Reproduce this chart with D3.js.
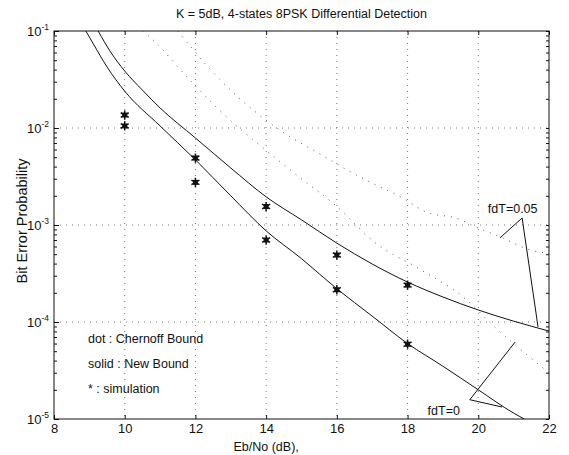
<!DOCTYPE html>
<html><head><meta charset="utf-8">
<script src="https://cdn.jsdelivr.net/npm/d3@7/dist/d3.min.js"></script>
<style>body{margin:0;background:#fff}svg{display:block}text{font-family:"Liberation Sans",Arial,sans-serif;fill:#111}</style>
</head><body><svg id="c" width="569" height="455"></svg>
<script>
const title = "K = 5dB, 4-states 8PSK Differential Detection";
const xLabel = "Eb/No (dB),";
const yLabel = "Bit Error Probability";
const xTicks = [8, 10, 12, 14, 16, 18, 20, 22];
const yTickExps = [-1, -2, -3, -4, -5];

// Solid: New Bound, fdT=0
const newBound0X = [8.9, 9.1, 9.5, 10, 11, 12, 13, 14, 15, 16, 17, 18, 19, 20, 21, 21.3];
const newBound0Y = [0.1, 0.075, 0.0426, 0.024, 0.0105, 0.0047, 0.0020, 8.7e-4, 4.5e-4, 2.2e-4, 1.15e-4, 6.0e-5, 3.5e-5, 2.0e-5, 1.15e-5, 1.0e-5];
// Solid: New Bound, fdT=0.05
const newBound05X = [9.25, 9.6, 10, 10.5, 11, 12, 13, 14, 15, 16, 17, 18, 19, 20, 21, 22];
const newBound05Y = [0.1, 0.0608, 0.0387, 0.0246, 0.0161, 0.00789, 0.00387, 0.00195, 0.00113, 6.5e-4, 3.96e-4, 2.58e-4, 1.81e-4, 1.33e-4, 1.02e-4, 8.07e-5];
// Dotted: Chernoff Bound, fdT=0
const chernoff0X = [10.5, 10.9, 11.4, 11.85, 13.1, 13.9, 14.9, 16, 17.1, 18.35, 19.5, 20.6, 22];
const chernoff0Y = [0.1, 0.075, 0.047, 0.031, 0.011, 6.3e-3, 3.2e-3, 1.55e-3, 6.5e-4, 3.5e-4, 1.9e-4, 8e-5, 3e-5];
// Dotted: Chernoff Bound, fdT=0.05
const chernoff05X = [11.5, 12.64, 14.3, 15.6, 16.4, 17, 17.8, 18.55, 19.4, 20, 20.6, 21.5, 22];
const chernoff05Y = [0.1, 0.033, 0.01, 5.2e-3, 3.5e-3, 2.7e-3, 1.95e-3, 1.35e-3, 1.17e-3, 9.3e-4, 7.6e-4, 5.5e-4, 5.1e-4];
// Simulation points
const simX = [10, 10, 12, 12, 14, 14, 16, 16, 18, 18];
const simY = [0.0136, 0.0105, 0.0049, 0.00275, 0.00155, 7.0e-4, 4.9e-4, 2.15e-4, 2.4e-4, 5.9e-5];

const legendLines = ["dot : Chernoff Bound", "solid : New Bound", "* : simulation"];
const annotations = [
  {label: "fdT=0.05", apex: [21.24, 1.18e-3], ends: [[20.61, 7.35e-4], [21.69, 8.9e-5]], text: [20.27, 1.33e-3], anchor: "start"},
  {label: "fdT=0", apex: [19.76, 1.58e-5], ends: [[21.04, 6.2e-5], [20.67, 1.33e-5]], text: [19.48, 1.1e-5], anchor: "end"}
];

const svg = d3.select("#c");
const L = 54, R = 549, T = 31, B = 419;
const x = d3.scaleLinear().domain([8, 22]).range([L, R]);
const y = d3.scaleLog().domain([1e-5, 1e-1]).range([B, T]);

svg.append("defs").append("clipPath").attr("id", "clip")
  .append("rect").attr("x", L).attr("y", T).attr("width", R - L).attr("height", B - T);

// grid
const g = svg.append("g");
xTicks.slice(1, -1).forEach(t => g.append("line").attr("x1", x(t)).attr("x2", x(t)).attr("y1", T).attr("y2", B)
  .attr("stroke", "#555").attr("stroke-width", 0.8).attr("stroke-dasharray", "1,5"));
yTickExps.slice(1, -1).forEach(e => g.append("line").attr("x1", L).attr("x2", R).attr("y1", y(Math.pow(10, e))).attr("y2", y(Math.pow(10, e)))
  .attr("stroke", "#555").attr("stroke-width", 0.8).attr("stroke-dasharray", "1,5"));

// axes
const axB = d3.axisBottom(x).tickValues(xTicks).tickSize(-4).tickFormat(d => d);
const axT = d3.axisTop(x).tickValues(xTicks).tickSize(-4).tickFormat("");
const minor = [];
for (let e = -5; e < -1; e++) for (let m = 1; m < 10; m++) minor.push(m * Math.pow(10, e));
minor.push(0.1);
const axL = d3.axisLeft(y).tickValues(minor).tickSize(-3).tickFormat("");
const axR = d3.axisRight(y).tickValues(minor).tickSize(-3).tickFormat("");
function style(sel) {
  sel.select(".domain").remove();
  sel.selectAll("line").attr("stroke", "#111");
  sel.selectAll("text").attr("font-size", 13).attr("font-family", "Liberation Sans, Arial, sans-serif").attr("fill", "#111");
}
svg.append("g").attr("transform", `translate(0,${B})`).call(axB).call(style).selectAll("text").attr("dy", "0.95em").attr("y", 2);
svg.append("g").attr("transform", `translate(0,${T})`).call(axT).call(style);
svg.append("g").attr("transform", `translate(${L},0)`).call(axL).call(style);
svg.append("g").attr("transform", `translate(${R},0)`).call(axR).call(style);
svg.append("g").attr("transform", `translate(${L},0)`).call(d3.axisLeft(y).tickValues(yTickExps.map(e => Math.pow(10, e))).tickSize(-5).tickFormat("")).call(style);

svg.append("rect").attr("x", L).attr("y", T).attr("width", R - L).attr("height", B - T)
  .attr("fill", "none").attr("stroke", "#111").attr("stroke-width", 1);

// y tick labels 10^e
yTickExps.forEach(e => {
  const t = svg.append("text").attr("x", L - 5).attr("y", y(Math.pow(10, e)) + 5).attr("text-anchor", "end").attr("font-size", 13);
  t.append("tspan").text("10");
  t.append("tspan").attr("dy", -6).attr("font-size", 8.5).text(String(e));
});

const lineGen = d3.line().x(d => x(d[0])).y(d => y(d[1])).curve(d3.curveMonotoneX);
const plot = svg.append("g").attr("clip-path", "url(#clip)");
function zip(a, b) { return a.map((v, i) => [v, b[i]]); }
plot.append("path").datum(zip(newBound0X, newBound0Y)).attr("d", lineGen).attr("fill", "none").attr("stroke", "#111").attr("stroke-width", 1);
plot.append("path").datum(zip(newBound05X, newBound05Y)).attr("d", lineGen).attr("fill", "none").attr("stroke", "#111").attr("stroke-width", 1);
plot.append("path").datum(zip(chernoff0X, chernoff0Y)).attr("d", lineGen).attr("fill", "none").attr("stroke", "#444").attr("stroke-width", 0.9).attr("stroke-dasharray", "1,6");
plot.append("path").datum(zip(chernoff05X, chernoff05Y)).attr("d", lineGen).attr("fill", "none").attr("stroke", "#444").attr("stroke-width", 0.9).attr("stroke-dasharray", "1,6");

// simulation asterisks
const star = d3.symbol().type(d3.symbolAsterisk).size(60);
zip(simX, simY).forEach(p => {
  plot.append("path").attr("d", star).attr("transform", `translate(${x(p[0])},${y(p[1])})`)
    .attr("fill", "none").attr("stroke", "#111").attr("stroke-width", 1.5);
  plot.append("rect").attr("x", x(p[0]) - 2.5).attr("y", y(p[1]) - 2.5).attr("width", 5).attr("height", 5).attr("fill", "#111");
});

// title and axis labels
svg.append("text").attr("x", (L + R) / 2).attr("y", 18).attr("text-anchor", "middle").attr("font-size", 12.5).text(title);
svg.append("text").attr("x", x(14)).attr("y", 451).attr("text-anchor", "middle").attr("font-size", 12.5).text(xLabel);
svg.append("text").attr("transform", `translate(27,221) rotate(-90)`).attr("text-anchor", "middle").attr("font-size", 14.5).text(yLabel);

// legend text
legendLines.forEach((s, i) => svg.append("text").attr("x", 88).attr("y", 343 + i * 25).attr("font-size", 12.5).text(s));

// annotations
const ann = svg.append("g").attr("stroke", "#111").attr("stroke-width", 1).attr("fill", "none");
annotations.forEach(a => {
  a.ends.forEach(e => ann.append("line").attr("x1", x(a.apex[0])).attr("y1", y(a.apex[1])).attr("x2", x(e[0])).attr("y2", y(e[1])));
  svg.append("text").attr("x", x(a.text[0])).attr("y", y(a.text[1])).attr("text-anchor", a.anchor).attr("font-size", 12.5).text(a.label);
});
</script></body></html>
